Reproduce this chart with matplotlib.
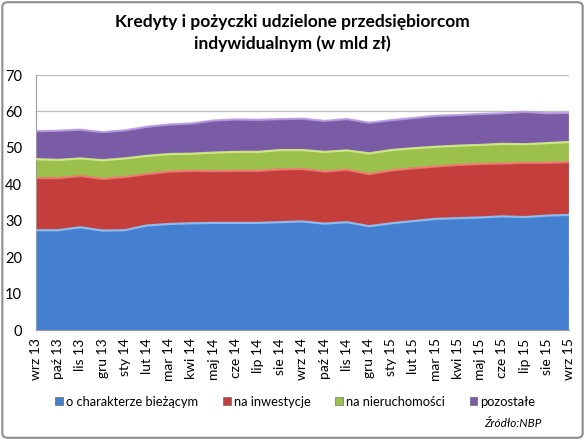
import matplotlib
matplotlib.use("Agg")
import matplotlib.pyplot as plt
from matplotlib.patches import Patch, FancyBboxPatch

# Monthly data, wrz 2013 - wrz 2015 (mld zl)
months = ["wrz 13", "paź 13", "lis 13", "gru 13", "sty 14", "lut 14", "mar 14",
          "kwi 14", "maj 14", "cze 14", "lip 14", "sie 14", "wrz 14", "paź 14",
          "lis 14", "gru 14", "sty 15", "lut 15", "mar 15", "kwi 15", "maj 15",
          "cze 15", "lip 15", "sie 15", "wrz 15"]
biezace = [27.4, 27.4, 28.2, 27.3, 27.4, 28.7, 29.1, 29.3, 29.4, 29.4, 29.4, 29.6, 29.8,
           29.2, 29.6, 28.5, 29.3, 29.9, 30.5, 30.7, 30.9, 31.2, 31.0, 31.4, 31.6]
inwestycje = [14.3, 14.3, 14.1, 14.2, 14.6, 14.1, 14.4, 14.4, 14.2, 14.3, 14.3, 14.5, 14.4,
              14.3, 14.4, 14.3, 14.5, 14.5, 14.4, 14.6, 14.7, 14.5, 14.9, 14.5, 14.5]
nieruchomosci = [5.2, 5.0, 4.8, 5.1, 5.1, 5.0, 4.8, 4.7, 5.1, 5.2, 5.2, 5.3, 5.2,
                 5.4, 5.3, 5.7, 5.6, 5.5, 5.4, 5.3, 5.2, 5.4, 5.1, 5.4, 5.5]
pozostale = [7.7, 8.0, 7.9, 7.7, 7.7, 8.0, 8.1, 8.3, 8.8, 8.9, 8.8, 8.5, 8.6,
             8.5, 8.6, 8.4, 8.2, 8.3, 8.5, 8.4, 8.5, 8.4, 8.9, 8.2, 8.0]
series_names = ["o charakterze bieżącym", "na inwestycje", "na nieruchomości", "pozostałe"]

fill_colors = ["#4480CF", "#C43E3B", "#9CC04C", "#7A5BA6"]
edge_colors = ["#8EC4F5", "#F07A74", "#D4EE88", "#B79AE0"]

plt.rcParams["font.family"] = ["Lato", "DejaVu Sans"]

fig = plt.figure(figsize=(5.85, 4.4), dpi=100)
ax = fig.add_axes([0.0615, 0.25, 0.911, 0.5795])

x = list(range(len(months)))
ax.stackplot(x, biezace, inwestycje, nieruchomosci, pozostale,
             colors=fill_colors, zorder=2)

# light rim along each band's top, a rough take on the Excel bevel
running = [0.0] * len(x)
for vals, ec in zip([biezace, inwestycje, nieruchomosci, pozostale], edge_colors):
    running = [r + v for r, v in zip(running, vals)]
    ax.plot(x, running, color=ec, lw=1.6, alpha=0.9, zorder=3)

ax.set_xlim(0, len(x) - 1)
ax.set_ylim(0, 70)
ax.set_yticks(range(0, 71, 10))
ax.yaxis.grid(True, color="#BDBDBD", lw=0.9, zorder=0)
ax.set_axisbelow(True)
ax.set_xticks(x)
ax.set_xticklabels(months, rotation=90, fontsize=10)
ax.tick_params(axis="y", labelsize=10.5, length=0, pad=10)
ax.tick_params(axis="x", length=0, pad=6)
for s in ["top", "right"]:
    ax.spines[s].set_visible(False)
for s in ["left", "bottom"]:
    ax.spines[s].set_color("#9A9A9A")

fig.text(0.5, 0.925, "Kredyty i pożyczki udzielone przedsiębiorcom\nindywidualnym (w mld zł)",
         ha="center", va="center", fontsize=12.5, fontweight="bold", linespacing=1.45)

handles = [Patch(facecolor=c, edgecolor="#555555", lw=0.4) for c in fill_colors]
fig.legend(handles, series_names, loc="center", bbox_to_anchor=(0.505, 0.087), ncol=4,
           frameon=False, fontsize=9.3, handlelength=0.6, handleheight=0.6,
           handletextpad=0.25, columnspacing=1.9)

fig.text(0.925, 0.038, "Źródło:NBP", ha="right", va="center", fontsize=8.5, style="italic")

border = FancyBboxPatch((0.004, 0.005), 0.992, 0.99, boxstyle="round,pad=0,rounding_size=0.01",
                        transform=fig.transFigure, fill=False, edgecolor="#8C8C8C", lw=1.5)
fig.patches.append(border)

fig.savefig("out.png", dpi=100)
